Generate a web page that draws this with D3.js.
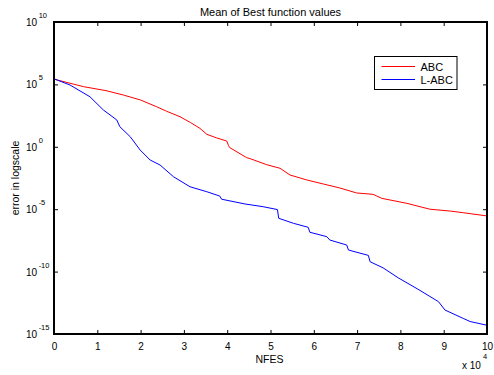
<!DOCTYPE html>
<html>
<head>
<meta charset="utf-8">
<script src="https://cdn.jsdelivr.net/npm/d3@7"></script>
<style>
  html, body { margin: 0; padding: 0; background: #fff; }
  svg { display: block; font-family: "Liberation Sans", Arial, Helvetica, sans-serif; }
</style>
</head>
<body>
<svg id="chart" width="494" height="375"></svg>
<script>
// NFES in units of 1e4, error stored as log10 exponent
const abcNfes = [0, 0.68, 1.2, 1.6, 2.0, 2.37, 2.6, 2.91, 3.15, 3.37, 3.53, 3.75, 3.99, 4.03, 4.06, 4.45, 4.53, 4.91, 5.22, 5.45, 5.84, 6.22, 6.6, 6.99, 7.37, 7.57, 8.15, 8.68, 9.15, 9.45, 10];
const abcLog10 = [5.42, 4.82, 4.5, 4.15, 3.75, 3.21, 2.85, 2.41, 1.95, 1.48, 1.0, 0.72, 0.46, 0.1, -0.07, -0.87, -0.95, -1.43, -1.72, -2.26, -2.66, -2.98, -3.3, -3.7, -3.81, -4.13, -4.53, -5.0, -5.15, -5.28, -5.54];

const labcNfes = [0, 0.37, 0.83, 1.14, 1.45, 1.52, 1.76, 1.99, 2.22, 2.45, 2.76, 3.14, 3.53, 3.83, 3.87, 4.41, 4.83, 5.16, 5.19, 5.53, 5.87, 5.91, 6.3, 6.37, 6.76, 6.8, 7.26, 7.3, 7.6, 7.95, 8.4, 8.88, 9.03, 9.45, 9.61, 10];
const labcLog10 = [5.45, 4.95, 4.01, 2.95, 2.15, 1.61, 0.81, -0.26, -1.06, -1.46, -2.4, -3.2, -3.6, -3.95, -4.2, -4.58, -4.8, -5.03, -5.73, -6.13, -6.45, -6.85, -7.2, -7.47, -7.87, -8.27, -8.7, -9.21, -9.7, -10.5, -11.4, -12.41, -13.08, -13.75, -14.0, -14.3];

const seriesNames = ["ABC", "L-ABC"];
const seriesColors = ["#ff0000", "#0000ff"];
const xTicks = [0, 1, 2, 3, 4, 5, 6, 7, 8, 9, 10];
const yTickExponents = [-15, -10, -5, 0, 5, 10];

const svg = d3.select("#chart");
const m = { left: 54, right: 487, top: 22, bottom: 334 };

const x = d3.scaleLinear().domain([0, 10]).range([m.left, m.right]);
const y = d3.scaleLog().domain([1e-15, 1e10]).range([m.bottom, m.top]);

const series = [
  { name: seriesNames[0], color: seriesColors[0], pts: abcNfes.map((v, i) => [v, Math.pow(10, abcLog10[i])]) },
  { name: seriesNames[1], color: seriesColors[1], pts: labcNfes.map((v, i) => [v, Math.pow(10, labcLog10[i])]) }
];

svg.append("defs").append("clipPath").attr("id", "plotclip")
  .append("rect").attr("x", m.left).attr("y", m.top)
  .attr("width", m.right - m.left).attr("height", m.bottom - m.top);

// plot background
svg.append("rect").attr("x", m.left).attr("y", m.top)
  .attr("width", m.right - m.left).attr("height", m.bottom - m.top)
  .attr("fill", "#fff");

// curves
const line = d3.line().x(d => x(d[0])).y(d => y(d[1]));
const curves = svg.append("g").attr("clip-path", "url(#plotclip)");
series.forEach(s => {
  curves.append("path").datum(s.pts)
    .attr("d", line)
    .attr("fill", "none")
    .attr("stroke", s.color)
    .attr("stroke-width", 1);
});

const tickLen = 4;
const fmtExp = v => Math.round(Math.log10(v));

// bottom axis
const gx = svg.append("g").attr("transform", `translate(0,${m.bottom})`)
  .call(d3.axisBottom(x).tickValues(xTicks).tickSizeInner(-tickLen).tickSizeOuter(0).tickPadding(9).tickFormat(d3.format("d")));
// top axis (ticks only)
const gxt = svg.append("g").attr("transform", `translate(0,${m.top})`)
  .call(d3.axisTop(x).tickValues(xTicks).tickSizeInner(-tickLen).tickSizeOuter(0).tickFormat(""));
// left axis
const gy = svg.append("g").attr("transform", `translate(${m.left},0)`)
  .call(d3.axisLeft(y).tickValues(yTickExponents.map(e => Math.pow(10, e))).tickSizeInner(-tickLen).tickSizeOuter(0).tickFormat(""));
// right axis (ticks only)
const gyr = svg.append("g").attr("transform", `translate(${m.right},0)`)
  .call(d3.axisRight(y).tickValues(yTickExponents.map(e => Math.pow(10, e))).tickSizeInner(-tickLen).tickSizeOuter(0).tickFormat(""));

[gx, gxt, gy, gyr].forEach(g => {
  g.select(".domain").remove();
  g.selectAll(".tick line").attr("stroke", "#000").attr("stroke-width", 1);
});
gx.selectAll(".tick text").attr("font-size", 10).attr("fill", "#000")
  .attr("font-family", "Liberation Sans, Arial, sans-serif");

// y tick labels as 10^n
gy.selectAll(".tick").each(function(d) {
  const t = d3.select(this).append("text")
    .attr("x", -28).attr("y", 3.5)
    .attr("text-anchor", "start")
    .attr("fill", "#000")
    .attr("font-size", 10);
  t.append("tspan").text("10");
  t.append("tspan").attr("dy", -8).attr("dx", 1.5).attr("font-size", 7.5).text(fmtExp(d));
});

// axes box
svg.append("rect").attr("x", m.left).attr("y", m.top)
  .attr("width", m.right - m.left).attr("height", m.bottom - m.top)
  .attr("fill", "none").attr("stroke", "#000").attr("stroke-width", 1.2)
  .attr("shape-rendering", "crispEdges");

// x multiplier
const mult = svg.append("text").attr("x", 462).attr("y", 369)
  .attr("font-size", 10).attr("fill", "#000");
mult.append("tspan").text("x 10");
mult.append("tspan").attr("dy", -10).attr("dx", 2).attr("font-size", 7.5).text("4");

// title and axis labels
svg.append("text").attr("x", (m.left + m.right) / 2).attr("y", 15.5)
  .attr("text-anchor", "middle").attr("font-size", 11).attr("fill", "#000")
  .text("Mean of Best function values");
svg.append("text").attr("x", (m.left + m.right) / 2 - 1).attr("y", 363)
  .attr("text-anchor", "middle").attr("font-size", 10.5).attr("fill", "#000")
  .text("NFES");
svg.append("text")
  .attr("transform", `translate(18.5,${(m.top + m.bottom) / 2}) rotate(-90)`)
  .attr("text-anchor", "middle").attr("font-size", 10.5).attr("fill", "#000")
  .text("error in logscale");

// legend
const lg = svg.append("g");
lg.append("rect").attr("x", 374.5).attr("y", 56.5).attr("width", 82.5).attr("height", 33)
  .attr("fill", "#fff").attr("stroke", "#000").attr("stroke-width", 1);
series.forEach((s, i) => {
  const cy = 66.5 + i * 13;
  lg.append("line").attr("x1", x(0) + 327.5).attr("x2", 415).attr("y1", cy).attr("y2", cy)
    .attr("stroke", s.color).attr("stroke-width", 1);
  lg.append("text").attr("x", 420.5).attr("y", cy + 4).attr("font-size", 11).attr("fill", "#000")
    .text(s.name);
});
</script>
</body>
</html>
